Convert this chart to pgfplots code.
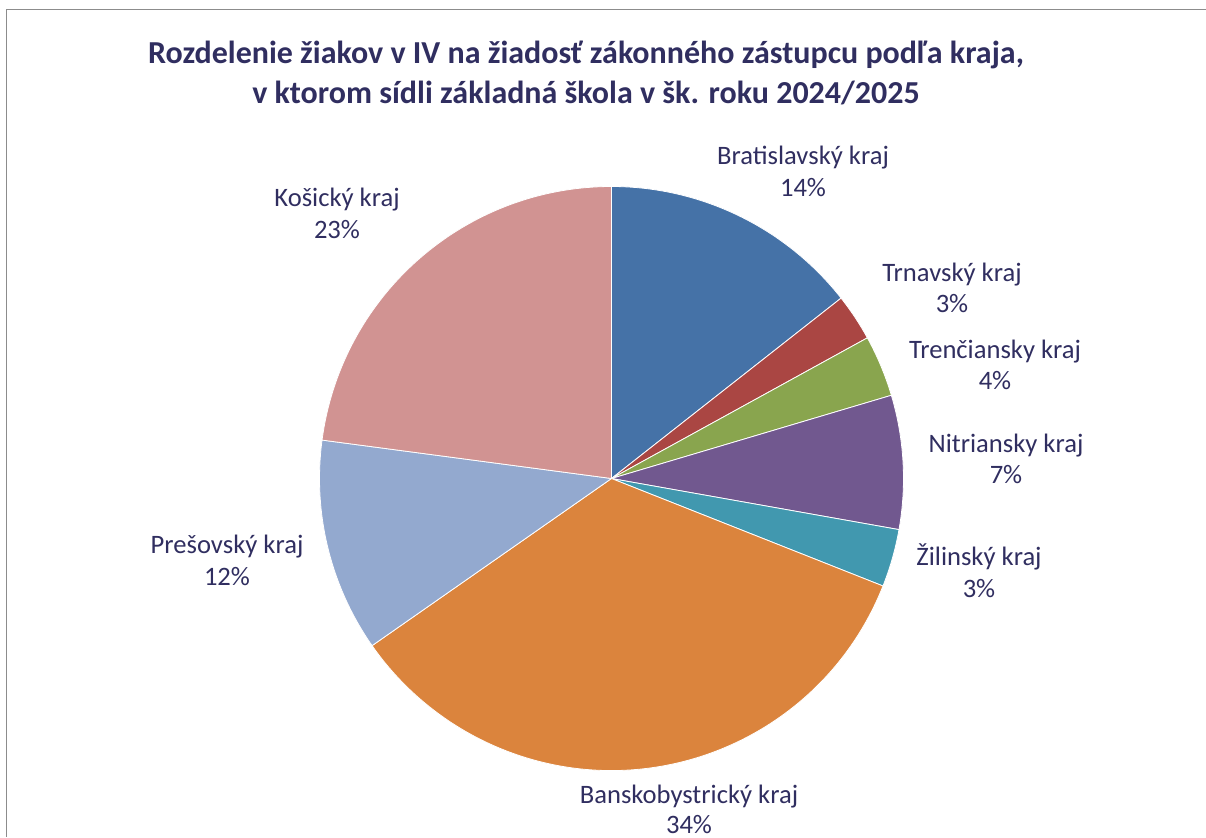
\documentclass[border=0pt]{standalone}
\usepackage{fontspec}
\setmainfont{Carlito}
\usepackage{pgfplots}
\pgfplotsset{compat=1.18}
\definecolor{txt}{RGB}{48,46,96}
\definecolor{frame}{RGB}{140,140,140}
\definecolor{cBra}{RGB}{69,114,167}
\definecolor{cTrn}{RGB}{170,70,67}
\definecolor{cTre}{RGB}{137,165,78}
\definecolor{cNit}{RGB}{113,88,143}
\definecolor{cZil}{RGB}{65,152,175}
\definecolor{cBan}{RGB}{219,132,61}
\definecolor{cPre}{RGB}{147,169,207}
\definecolor{cKos}{RGB}{209,147,146}
\begin{document}
\begin{tikzpicture}[x=0.5pt,y=0.5pt]
\path[use as bounding box] (0,0) rectangle (1206,837);
% frame
\draw[frame, line width=0.9pt] (1206,827.5) -- (6.5,827.5) -- (6.5,0);
\begin{axis}[at={(305.75pt,179.25pt)}, anchor=center, scale only axis,
  width=292pt, height=292pt, xmin=-1, xmax=1, ymin=-1, ymax=1,
  hide axis, clip=false]
\pgfplotsextra{
  \gdef\angstart{90}
  \foreach \v/\c in {14.4/cBra, 2.6/cTrn, 3.4/cTre, 7.4/cNit, 3.2/cZil, 34.3/cBan, 11.8/cPre, 22.9/cKos}{
    \pgfmathsetmacro\angend{\angstart-3.6*\v}
    \fill[\c, draw=white, line width=0.4pt] (axis cs:0,0) -- ++(\angstart:146pt)
      arc[start angle=\angstart, end angle=\angend, radius=146pt] -- cycle;
    \xdef\angstart{\angend}
  }
}
\end{axis}
% title
\begin{scope}[every node/.style={text=txt, font=\fontsize{16pt}{19pt}\selectfont\bfseries, anchor=base, inner sep=0pt}]
\node at (586,837-64) {Rozdelenie žiakov v IV na žiadosť zákonného zástupcu podľa kraja,};
\node at (586,837-104) {v ktorom sídli základná škola v šk. roku 2024/2025};
\end{scope}
% labels
\begin{scope}[every node/.style={text=txt, font=\fontsize{13.3pt}{16pt}\selectfont, anchor=base, inner sep=0pt}]
\node at (803,837-165) {Bratislavský kraj};   \node at (803,837-197) {14\%};
\node at (952,837-282) {Trnavský kraj};       \node at (952,837-313) {3\%};
\node at (995,837-359) {Trenčiansky kraj};    \node at (995,837-390) {4\%};
\node at (1006,837-452) {Nitriansky kraj};    \node at (1006,837-484) {7\%};
\node at (979,837-565) {Žilinský kraj};       \node at (979,837-597) {3\%};
\node at (689,837-803) {Banskobystrický kraj};\node at (689,837-833) {34\%};
\node at (227,837-553) {Prešovský kraj};      \node at (227,837-585) {12\%};
\node at (337,837-207) {Košický kraj};        \node at (337,837-239) {23\%};
\end{scope}
\end{tikzpicture}
\end{document}
